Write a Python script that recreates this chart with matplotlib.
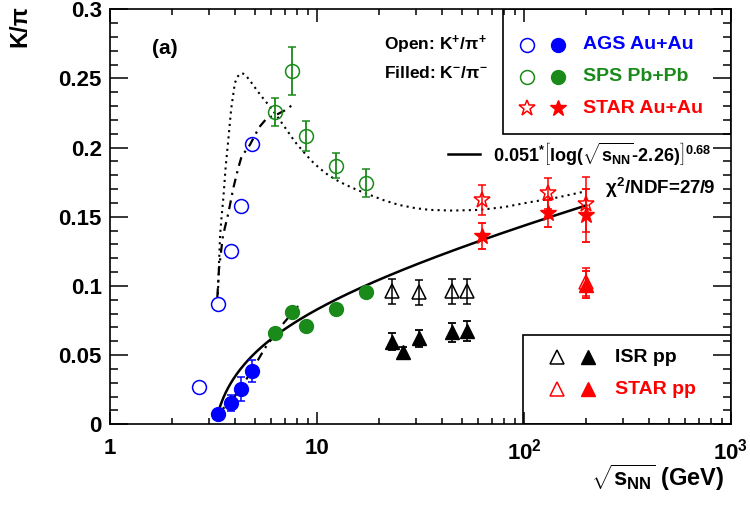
import numpy as np
import matplotlib
matplotlib.use('Agg')
import matplotlib.pyplot as plt
from matplotlib.ticker import FixedLocator, MultipleLocator, NullFormatter
from matplotlib.patches import Rectangle
from matplotlib.lines import Line2D

plt.rcParams['font.family'] = ['Liberation Sans', 'DejaVu Sans']
plt.rcParams['font.weight'] = 'bold'
plt.rcParams['mathtext.fontset'] = 'custom'
plt.rcParams['mathtext.rm'] = 'Liberation Sans:bold'
plt.rcParams['mathtext.it'] = 'Liberation Sans:bold'
plt.rcParams['mathtext.bf'] = 'Liberation Sans:bold'
plt.rcParams['mathtext.sf'] = 'Liberation Sans:bold'

# ---------------- data ----------------
ags_open_x = [2.68, 3.32, 3.84, 4.3, 4.85]
ags_open_y = [0.027, 0.087, 0.125, 0.158, 0.2025]
ags_fill_x = [3.32, 3.84, 4.3, 4.85]
ags_fill_y = [0.0075, 0.0155, 0.0255, 0.0385]
ags_fill_err = [0.003, 0.006, 0.009, 0.008]

sps_x = [6.3, 7.6, 8.8, 12.3, 17.3]
sps_open_y = [0.2258, 0.2555, 0.2085, 0.1868, 0.1745]
sps_open_err = [0.010, 0.0175, 0.011, 0.009, 0.010]
sps_fill_y = [0.066, 0.0812, 0.0711, 0.0834, 0.0957]

isr_open_x = [23, 31, 45, 53]
isr_open_y = [0.0962, 0.0955, 0.0962, 0.0962]
isr_open_err = [0.009, 0.009, 0.009, 0.009]
isr_fill_x = [23, 26, 31, 45, 53]
isr_fill_y = [0.0597, 0.052, 0.0622, 0.0665, 0.0675]
isr_fill_err = [0.006, 0.004, 0.006, 0.007, 0.007]

starpp_x = [200]
starpp_open_y = [0.103]
starpp_open_err = [0.010]
starpp_fill_y = [0.101]
starpp_fill_err = [0.010]

staraa_x = [62.4, 130, 200]
staraa_open_y = [0.162, 0.167, 0.159]
staraa_open_err = [0.011, 0.011, 0.020]
staraa_fill_y = [0.136, 0.1525, 0.151]
staraa_fill_err = [0.0095, 0.010, 0.019]

# dotted model curve
model_x = [3.32, 3.36, 3.40, 3.46, 3.53, 3.62, 3.73, 3.85, 4.01, 4.12, 4.25, 4.40,
           4.57, 4.85, 5.11, 5.5, 5.93, 6.5, 7.14, 7.8, 8.6, 9.4, 10.3, 11.3, 12.4,
           13.6, 15.0, 16.5, 18.0, 21, 25, 30, 35, 45, 61, 80, 106, 140, 193]
model_y = [0.094, 0.115, 0.136, 0.150, 0.164, 0.186, 0.206, 0.228, 0.2466, 0.251, 0.2535, 0.2535,
           0.2515, 0.2465, 0.2417, 0.2355, 0.2296, 0.2215, 0.2128, 0.2045, 0.197, 0.1905, 0.185, 0.1803, 0.1766,
           0.1735, 0.1706, 0.168, 0.1658, 0.162, 0.1585, 0.1562, 0.155, 0.1545, 0.155, 0.157, 0.1605, 0.1635, 0.168]

# dash-dot curves
dd1_x = [3.30, 3.36, 3.51, 3.73, 3.94, 4.16, 4.32, 4.74, 5.26, 5.72, 6.34, 7.0, 7.8]
dd1_y = [0.092, 0.112, 0.136, 0.1526, 0.1706, 0.185, 0.1935, 0.202, 0.2148, 0.2212, 0.2236, 0.227, 0.232]
dd2_x = [3.32, 3.84, 4.3, 4.85, 5.6, 6.6, 8.1]
dd2_y = [0.008, 0.0165, 0.0265, 0.039, 0.055, 0.0697, 0.0855]

# fit: 0.051*[log(sqrt(s)-2.26)]^0.68
fit_a, fit_b, fit_p = 0.051, 2.26, 0.68
fit_xmin, fit_xmax = 3.29, 200

BLUE = '#0000ff'
GREEN = '#1a8a1a'
RED = '#ff0000'

fig = plt.figure(figsize=(7.5, 5.09), dpi=100)
ax = fig.add_axes([110/750, 1-424.3/509, 621/750, 415/509])
ax.set_xscale('log')
ax.set_xlim(1, 1000)
ax.set_ylim(0, 0.3)

# curves
ax.plot(model_x, model_y, color='black', ls=(0, (1, 2)), lw=1.5, zorder=2)
ax.plot(dd1_x, dd1_y, color='black', ls=(0, (4, 2.5, 1, 2.5)), lw=1.6, zorder=2)
ax.plot(dd2_x, dd2_y, color='black', ls=(0, (4, 2.5, 1, 2.5)), lw=1.6, zorder=2)
fx = np.geomspace(fit_xmin, fit_xmax, 300)
fy = fit_a * np.log(fx - fit_b) ** fit_p
ax.plot(fx, fy, color='black', lw=1.8, zorder=2)

ms_c = 10
ms_s = 12
# AGS
ax.plot(ags_open_x, ags_open_y, 'o', ms=ms_c, mfc='none', mec=BLUE, mew=1.1, zorder=4)
ax.errorbar(ags_fill_x, ags_fill_y, yerr=ags_fill_err, fmt='o', ms=ms_c, color=BLUE,
            ecolor=BLUE, elinewidth=1.1, capsize=3, capthick=1.1, zorder=4)
# SPS
ax.errorbar(sps_x, sps_open_y, yerr=sps_open_err, fmt='o', ms=ms_c, mfc='none', mec=GREEN,
            mew=1.1, ecolor=GREEN, elinewidth=1.3, capsize=3, capthick=1.3, zorder=4)
ax.plot(sps_x, sps_fill_y, 'o', ms=ms_c, color=GREEN, zorder=4)
# ISR
ax.errorbar(isr_open_x, isr_open_y, yerr=isr_open_err, fmt='^', ms=10, mfc='none', mec='black',
            mew=1.1, ecolor='black', elinewidth=1.1, capsize=3, capthick=1.3, zorder=4)
ax.errorbar(isr_fill_x, isr_fill_y, yerr=isr_fill_err, fmt='^', ms=10, color='black',
            ecolor='black', elinewidth=1.1, capsize=3, capthick=1.3, zorder=4)
# STAR pp
ax.errorbar(starpp_x, starpp_open_y, yerr=starpp_open_err, fmt='^', ms=10, mfc='none', mec=RED,
            mew=1.1, ecolor=RED, elinewidth=1.1, capsize=3, capthick=1.3, zorder=4)
ax.errorbar(starpp_x, starpp_fill_y, yerr=starpp_fill_err, fmt='^', ms=10, color=RED,
            ecolor=RED, elinewidth=1.1, capsize=3, capthick=1.3, zorder=4)
# STAR Au+Au
ax.errorbar(staraa_x, staraa_open_y, yerr=staraa_open_err, fmt='*', ms=ms_s, mfc='none', mec=RED,
            mew=1.1, ecolor=RED, elinewidth=1.1, capsize=3, capthick=1.3, zorder=4)
ax.errorbar(staraa_x, staraa_fill_y, yerr=staraa_fill_err, fmt='*', ms=ms_s, color=RED,
            ecolor=RED, elinewidth=1.1, capsize=3, capthick=1.3, zorder=4)

# ticks
ax.xaxis.set_major_locator(FixedLocator([1, 10, 100, 1000]))
minors = [m * d for d in (1, 10, 100) for m in range(2, 10)]
ax.xaxis.set_minor_locator(FixedLocator(minors))
ax.xaxis.set_minor_formatter(NullFormatter())
ax.set_xticklabels(['1', '10', r'10$^{2}$', r'10$^{3}$'])
ax.yaxis.set_major_locator(MultipleLocator(0.05))
ax.yaxis.set_minor_locator(MultipleLocator(0.01))
ax.set_yticks([0, 0.05, 0.1, 0.15, 0.2, 0.25, 0.3])
ax.set_yticklabels(['0', '0.05', '0.1', '0.15', '0.2', '0.25', '0.3'])
ax.tick_params(axis='x', which='major', direction='in', length=9, width=1.1, top=True,
               labelsize=16, pad=10)
ax.tick_params(axis='x', which='minor', direction='in', length=4.5, width=1.1, top=True)
ax.tick_params(axis='y', which='major', direction='in', length=13, width=1.1, right=True,
               labelsize=16, pad=6)
ax.tick_params(axis='y', which='minor', direction='in', length=6, width=1.1, right=True)
for s in ax.spines.values():
    s.set_linewidth(1.2)
for lab in ax.get_xticklabels() + ax.get_yticklabels():
    lab.set_fontweight('bold')

# axis labels
fig.text(20/750, 1-26/509, 'K/π', rotation=90, ha='center', va='center', fontsize=17,
         fontweight='bold')
fig.text(658/750, 1-478/509, r'$\sqrt{s_{NN}}$ (GeV)', ha='center', va='center', fontsize=17,
         fontweight='bold')

# texts
ax.text(0.0886, 0.9067, '(a)', ha='center', va='center', fontsize=15, fontweight='bold',
        transform=ax.transAxes)
ax.text(0.442, 0.914, r'Open: K$^{+}$/$\pi^{+}$', ha='left', va='center', fontsize=12.5,
        fontweight='bold', transform=ax.transAxes)
ax.text(0.442, 0.8465, r'Filled: K$^{-}$/$\pi^{-}$', ha='left', va='center', fontsize=12.5,
        fontweight='bold', transform=ax.transAxes)

# fit label
ax.add_line(Line2D([0.544, 0.596], [0.651, 0.651], color='black', lw=1.8, transform=ax.transAxes))
ax.text(0.617, 0.651, r'0.051$^{*}\left[\mathrm{log}(\sqrt{s_{NN}}\text{-}2.26)\right]^{0.68}$',
        ha='left', va='center', fontsize=13, fontweight='bold', transform=ax.transAxes)
ax.text(0.797, 0.5694, r'$\chi^{2}$/NDF=27/9', ha='left', va='center', fontsize=13.5,
        fontweight='bold', transform=ax.transAxes)

# legend 1
ax.add_patch(Rectangle((0.633, 0.6995), 0.367, 0.3005, fill=False, ec='black', lw=1.2,
                       transform=ax.transAxes, zorder=5))
leg1 = [('AGS Au+Au', BLUE, 'o', 10, 0.914),
        ('SPS Pb+Pb', GREEN, 'o', 10, 0.837),
        ('STAR Au+Au', RED, '*', 12, 0.762)]
for txt, c, m, s, yy in leg1:
    ax.plot([0.6715], [yy], m, ms=s, mfc='none', mec=c, mew=1.1, transform=ax.transAxes,
            clip_on=False, zorder=6)
    ax.plot([0.7214], [yy], m, ms=s, color=c, transform=ax.transAxes, clip_on=False, zorder=6)
    ax.text(0.7617, yy, txt, color=c, ha='left', va='center', fontsize=14, fontweight='bold',
            transform=ax.transAxes)

# legend 2
ax.add_patch(Rectangle((0.665, 0.0), 0.335, 0.215, fill=False, ec='black', lw=1.2,
                       transform=ax.transAxes, zorder=5))
leg2 = [('ISR pp', 'black', 0.162), ('STAR pp', RED, 0.085)]
for txt, c, yy in leg2:
    ax.plot([0.7198], [yy], '^', ms=10, mfc='none', mec=c, mew=1.1, transform=ax.transAxes,
            clip_on=False, zorder=6)
    ax.plot([0.7697], [yy], '^', ms=10, color=c, transform=ax.transAxes, clip_on=False, zorder=6)
    ax.text(0.8132, yy, txt, color=c, ha='left', va='center', fontsize=14, fontweight='bold',
            transform=ax.transAxes)

fig.savefig('out.png', dpi=100)
